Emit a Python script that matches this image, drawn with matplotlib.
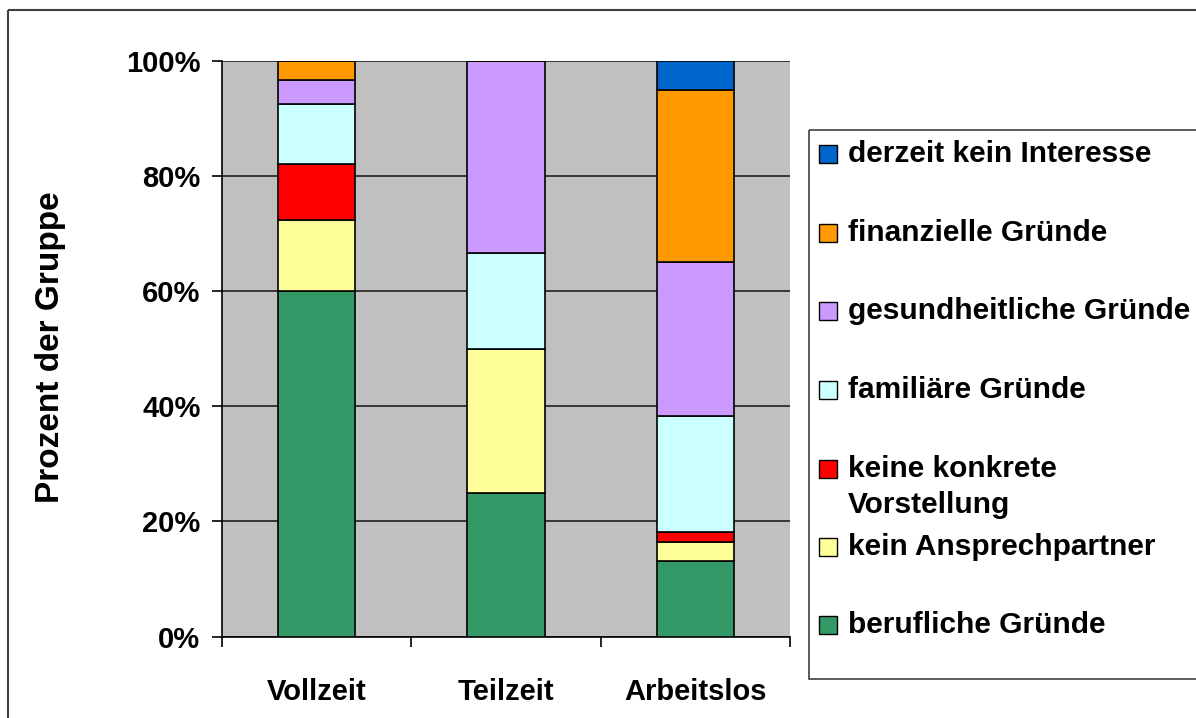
import matplotlib
matplotlib.use("Agg")
import matplotlib.pyplot as plt
from matplotlib.patches import Rectangle
import numpy as np

plt.rcParams['font.family'] = ['Liberation Sans', 'DejaVu Sans']
plt.rcParams['font.weight'] = 'bold'

groups = ["Vollzeit", "Teilzeit", "Arbeitslos"]
reasons = ["berufliche Gründe", "kein Ansprechpartner", "keine konkrete\nVorstellung",
           "familiäre Gründe", "gesundheitliche Gründe", "finanzielle Gründe",
           "derzeit kein Interesse"]
colors = ["#339966", "#FFFF99", "#FF0000", "#CCFFFF", "#CC99FF", "#FF9900", "#0066CC"]

# percent of group, bottom to top
berufliche = [60.0, 25.0, 13.2]
ansprech = [12.4, 25.0, 3.2]
konkrete = [9.7, 0.0, 1.7]
familiaer = [10.4, 16.7, 20.2]
gesundheit = [4.2, 33.3, 26.7]
finanziell = [3.3, 0.0, 30.0]
interesse = [0.0, 0.0, 5.0]
values = [berufliche, ansprech, konkrete, familiaer, gesundheit, finanziell, interesse]

W, H = 1196, 718
fig = plt.figure(figsize=(W / 100, H / 100), dpi=100)

# overlay in pixel coords for frame and legend
bg = fig.add_axes([0, 0, 1, 1])
bg.set_xlim(0, W)
bg.set_ylim(H, 0)
bg.axis('off')
bg.add_patch(Rectangle((8, 10), 1300, 900, fill=False, ec='#404040', lw=1.5))
bg.add_patch(Rectangle((809, 129.5), 500, 549, fill=False, ec='#404040', lw=1.2))

ax = fig.add_axes([222 / W, (H - 636.5) / H, (790 - 222) / W, (636.5 - 61) / H])
ax.set_facecolor('#C0C0C0')
x = np.arange(len(groups))
bottom = np.zeros(len(groups))
for vals, col, lab in zip(values, colors, reasons):
    v = np.array(vals)
    ax.bar(x, v, 0.41, bottom=bottom, color=col, edgecolor='black', lw=1.2,
           label=lab, zorder=3)
    bottom += v

ax.set_xlim(-0.5, 2.5)
ax.set_ylim(0, 100)
ax.set_yticks(range(0, 101, 20))
ax.set_yticklabels([f"{t}%" for t in range(0, 101, 20)], fontsize=21, fontweight='bold')
ax.yaxis.grid(True, color='#202020', lw=1.2, zorder=1)
ax.set_xticks(x)
ax.set_xticklabels(groups, fontsize=21, fontweight='bold')
ax.tick_params(axis='x', length=0, pad=30)
ax.set_xticks([-0.5, 0.5, 1.5, 2.5], minor=True)
ax.tick_params(axis='x', which='minor', length=7.5, width=1.2, direction='out')
ax.tick_params(axis='y', length=7.5, width=1.2, direction='out', pad=8)
for s in ['top', 'right']:
    ax.spines[s].set_visible(False)
ax.spines['left'].set_linewidth(1.2)
ax.spines['bottom'].set_linewidth(1.2)

bg.text(51, 347, "Prozent der Gruppe", fontsize=24, fontweight='bold',
        rotation=90, ha='center', va='center')

# legend, top to bottom as in the original
ys = [154, 233, 311, 390, 469, 547, 625]
order = list(range(len(reasons)))[::-1]
for y, i in zip(ys, order):
    bg.add_patch(Rectangle((819, y - 9), 18, 18, fc=colors[i], ec='black', lw=1))
    for k, line in enumerate(reasons[i].split('\n')):
        bg.text(848, y + 36 * k, line, fontsize=21.5, fontweight='bold', va='center')

fig.savefig("out.png", dpi=100)
